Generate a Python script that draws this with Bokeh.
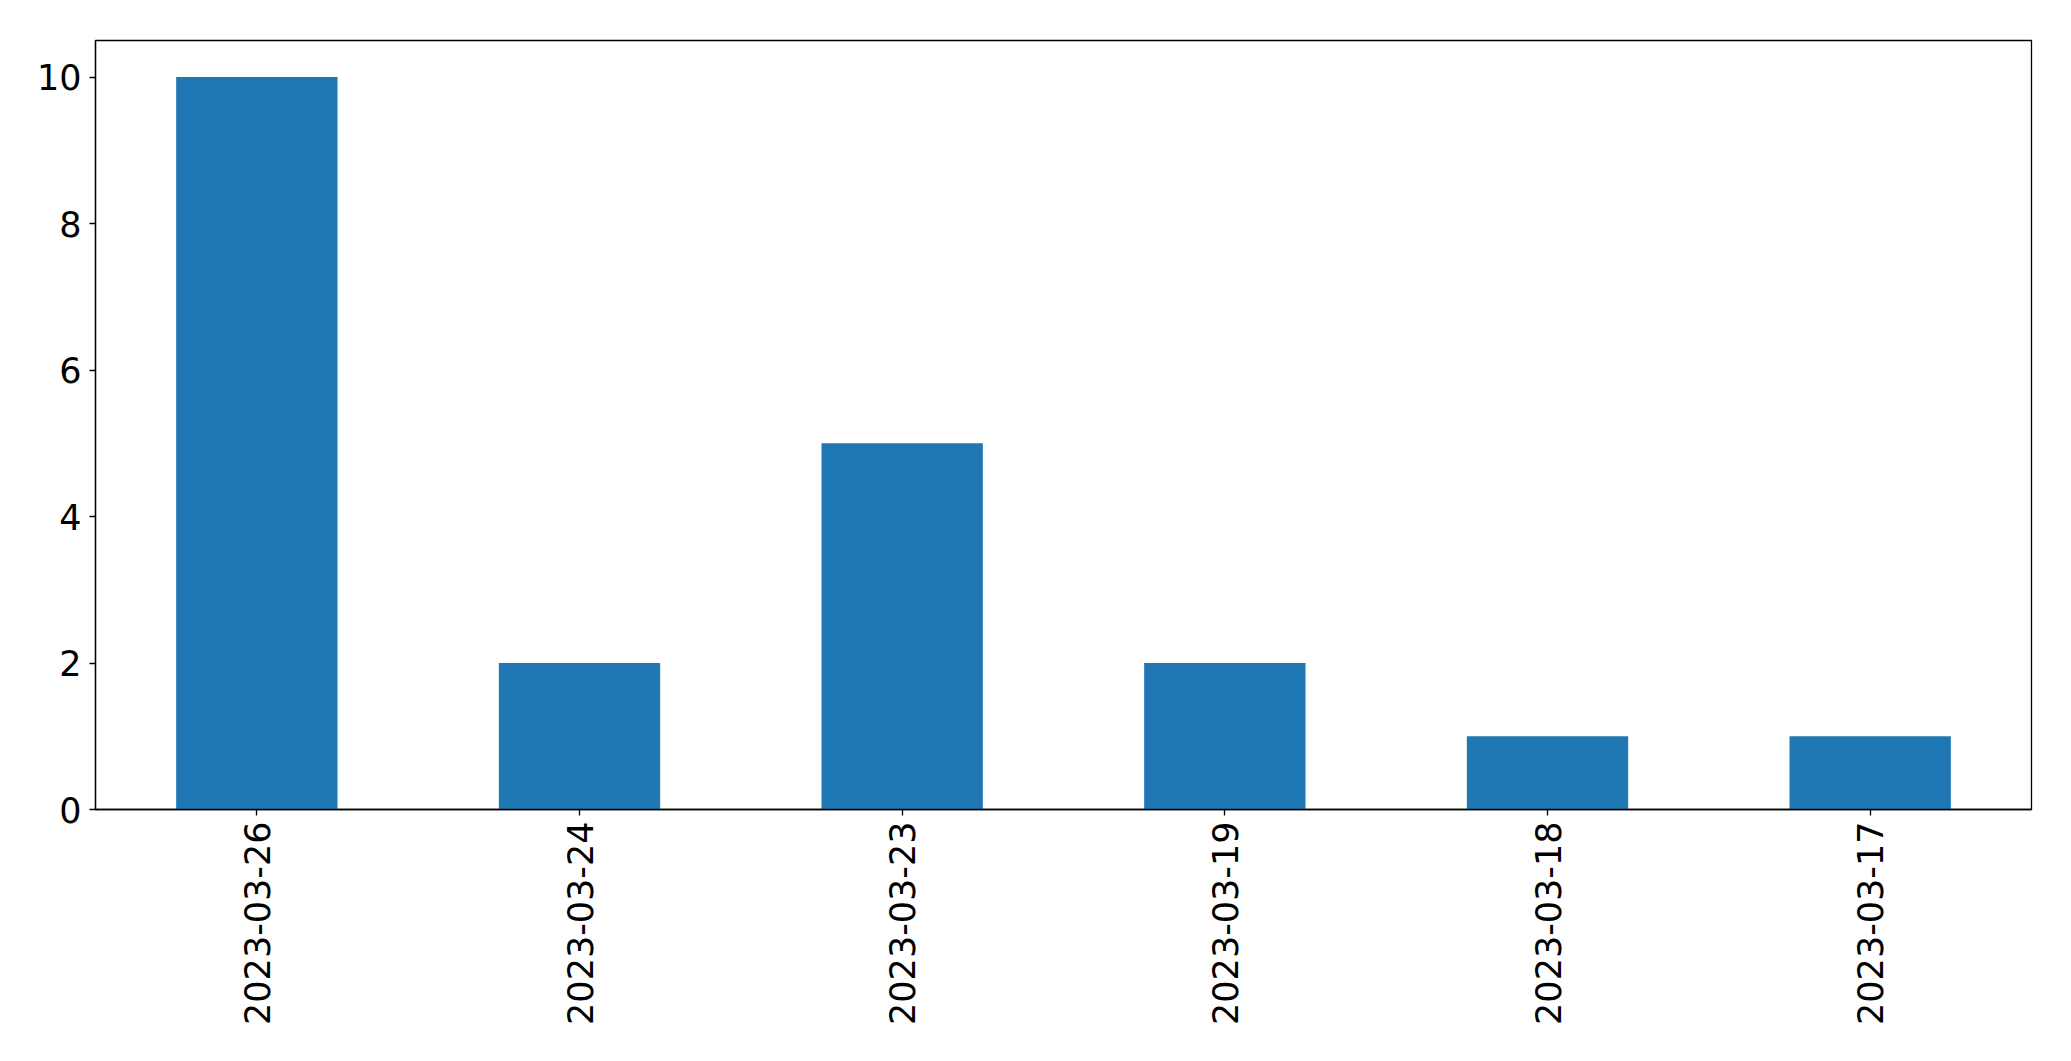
import math
from bokeh.plotting import figure
from bokeh.models import ColumnDataSource, FixedTicker, Range1d, FactorRange
from bokeh.embed import file_html
from bokeh.resources import INLINE

dates = ["2023-03-26", "2023-03-24", "2023-03-23", "2023-03-19", "2023-03-18", "2023-03-17"]
counts = [10, 2, 5, 2, 1, 1]
y_ticks = [0, 2, 4, 6, 8, 10]

source = ColumnDataSource(data=dict(dates=dates, counts=counts))

p = figure(
    x_range=FactorRange(*dates),
    y_range=Range1d(0, 10.5),
    width=2055, height=1045,
    output_backend="svg", toolbar_location=None,
    min_border_left=95, min_border_right=24, min_border_top=40, min_border_bottom=236,
)
p.vbar(x="dates", top="counts", width=0.5, source=source, color="#1f77b4", line_color=None)

p.xgrid.visible = False
p.ygrid.visible = False
p.outline_line_color = "black"
p.outline_line_width = 1.3
p.outline_line_alpha = 1.0

p.yaxis.ticker = FixedTicker(ticks=y_ticks)
for ax in (p.xaxis[0], p.yaxis[0]):
    ax.major_label_text_font = "DejaVu Sans"
    ax.major_label_text_font_size = "35px"
    ax.major_label_text_color = "black"
    ax.axis_line_color = "black"
    ax.axis_line_width = 1.3
    ax.major_tick_line_color = "black"
    ax.major_tick_line_width = 1.3
    ax.major_tick_out = 6
    ax.major_tick_in = 0
    ax.minor_tick_line_color = None

p.xaxis.major_label_orientation = math.pi / 2
p.xaxis.major_label_standoff = 6
p.yaxis.major_label_standoff = 8

open("out.html", "w").write(file_html(p, INLINE))
